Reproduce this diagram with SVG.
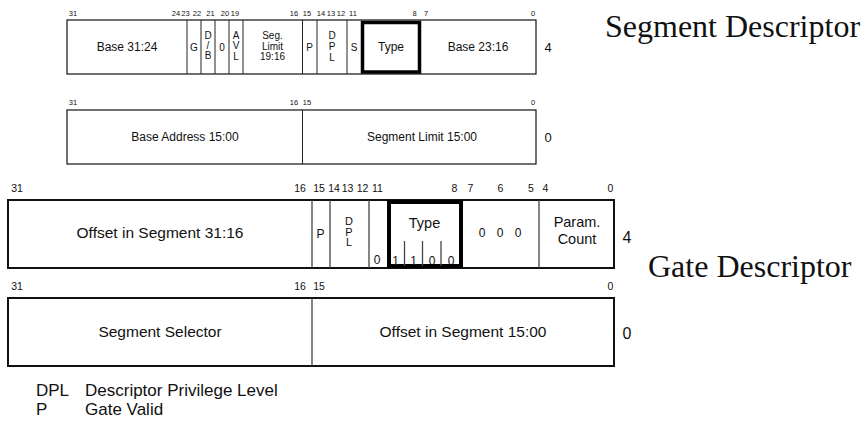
<svg xmlns="http://www.w3.org/2000/svg" width="865" height="424" viewBox="0 0 865 424">
<style>
text{font-family:"Liberation Sans",Arial,Helvetica,sans-serif;fill:#111}
.bs{font-size:7.5px;text-anchor:middle}
.bg{font-size:10.5px;text-anchor:middle}
.ls{font-size:12px;text-anchor:middle}
.st{font-size:10px;text-anchor:middle}
.gs{font-size:12px;text-anchor:middle}
.gv{font-size:11px;text-anchor:middle}
.lg{font-size:15.5px;text-anchor:middle}
.rs{font-size:13px;text-anchor:middle}
.rg{font-size:16px;text-anchor:middle}
.leg{font-size:17px}
.title{font-family:"Liberation Serif","Times New Roman",serif;font-size:32px}
.box{fill:#fff;stroke:#111;stroke-width:1.2}
.gbox{fill:#fff;stroke:#111;stroke-width:2}
.div{stroke:#222;stroke-width:1}
.gdiv{stroke:#444;stroke-width:1.3}
.thick{fill:none;stroke:#000;stroke-width:3.5}
.gthick{fill:none;stroke:#000;stroke-width:4}
</style>

<g id="segment-descriptor-high">
<rect class="box" x="67" y="20" width="469" height="54"/>
<line class="div" x1="187" y1="20" x2="187" y2="74"/>
<line class="div" x1="201" y1="20" x2="201" y2="74"/>
<line class="div" x1="215" y1="20" x2="215" y2="74"/>
<line class="div" x1="229" y1="20" x2="229" y2="74"/>
<line class="div" x1="243" y1="20" x2="243" y2="74"/>
<line class="div" x1="302.5" y1="20" x2="302.5" y2="74"/>
<line class="div" x1="317" y1="20" x2="317" y2="74"/>
<line class="div" x1="347" y1="20" x2="347" y2="74"/>
<rect class="thick" x="362.5" y="22.5" width="57" height="49.5"/>
<text class="bs" x="73" y="16">31</text>
<text class="bs" x="176" y="16">24</text>
<text class="bs" x="185.5" y="16">23</text>
<text class="bs" x="197" y="16">22</text>
<text class="bs" x="210.5" y="16">21</text>
<text class="bs" x="225" y="16">20</text>
<text class="bs" x="235" y="16">19</text>
<text class="bs" x="294" y="16">16</text>
<text class="bs" x="307" y="16">15</text>
<text class="bs" x="321" y="16">14</text>
<text class="bs" x="331" y="16">13</text>
<text class="bs" x="341" y="16">12</text>
<text class="bs" x="353" y="16">11</text>
<text class="bs" x="414.5" y="16">8</text>
<text class="bs" x="426" y="16">7</text>
<text class="bs" x="533" y="16">0</text>
<text class="ls" x="127" y="51">Base 31:24</text>
<text class="st" x="194" y="51">G</text>
<text class="st" x="208" y="38.5">D</text>
<text class="st" x="208" y="48.5">/</text>
<text class="st" x="208" y="59">B</text>
<text class="st" x="222" y="51">0</text>
<text class="st" x="236" y="38.5">A</text>
<text class="st" x="236" y="49">V</text>
<text class="st" x="236" y="59.5">L</text>
<text class="st" x="272.5" y="39">Seg.</text>
<text class="st" x="272.5" y="49.5">Limit</text>
<text class="st" x="272.5" y="60">19:16</text>
<text class="st" x="309.5" y="51">P</text>
<text class="st" x="332" y="38.5">D</text>
<text class="st" x="332" y="49.5">P</text>
<text class="st" x="332" y="60.5">L</text>
<text class="st" x="354" y="51">S</text>
<text class="ls" x="391" y="51">Type</text>
<text class="ls" x="478" y="51">Base 23:16</text>
<text class="rs" x="548" y="52">4</text>
</g>

<g id="segment-descriptor-low">
<rect class="box" x="67" y="110" width="469" height="54"/>
<line class="div" x1="302.5" y1="110" x2="302.5" y2="164"/>
<text class="bs" x="73" y="105">31</text>
<text class="bs" x="294" y="105">16</text>
<text class="bs" x="307" y="105">15</text>
<text class="bs" x="533" y="105">0</text>
<text class="ls" x="185" y="141">Base Address 15:00</text>
<text class="ls" x="422" y="141">Segment Limit 15:00</text>
<text class="rs" x="548" y="142">0</text>
</g>

<g id="segment-descriptor-title">
<text class="title" x="605" y="37">Segment Descriptor</text>
</g>

<g id="gate-descriptor-high">
<rect class="gbox" x="8" y="200" width="606" height="68"/>
<line class="gdiv" x1="312" y1="200" x2="312" y2="268"/>
<line class="gdiv" x1="330" y1="200" x2="330" y2="268"/>
<line class="gdiv" x1="369" y1="200" x2="369" y2="268"/>
<line class="gdiv" x1="539" y1="200" x2="539" y2="268"/>
<rect class="gthick" x="389" y="202" width="72" height="64"/>
<line class="gdiv" x1="404.5" y1="241" x2="404.5" y2="266"/>
<line class="gdiv" x1="422.5" y1="241" x2="422.5" y2="266"/>
<line class="gdiv" x1="441" y1="241" x2="441" y2="266"/>
<text class="bg" x="17" y="192">31</text>
<text class="bg" x="300" y="192">16</text>
<text class="bg" x="319" y="192">15</text>
<text class="bg" x="334" y="192">14</text>
<text class="bg" x="347.5" y="192">13</text>
<text class="bg" x="362.5" y="192">12</text>
<text class="bg" x="377.5" y="192">11</text>
<text class="bg" x="454.5" y="192">8</text>
<text class="bg" x="470.5" y="192">7</text>
<text class="bg" x="500.5" y="192">6</text>
<text class="bg" x="531" y="192">5</text>
<text class="bg" x="545.5" y="192">4</text>
<text class="bg" x="610.5" y="192">0</text>
<text class="lg" x="160" y="238">Offset in Segment 31:16</text>
<text class="gs" x="320.5" y="238">P</text>
<text class="gv" x="349" y="225">D</text>
<text class="gv" x="349" y="235.5">P</text>
<text class="gv" x="349" y="246">L</text>
<text class="gs" x="377" y="264">0</text>
<text class="lg" x="424.5" y="228" style="font-size:14.5px">Type</text>
<text class="gs" x="395.5" y="265">1</text>
<text class="gs" x="413.5" y="265">1</text>
<text class="gs" x="432" y="265">0</text>
<text class="gs" x="451" y="265">0</text>
<text class="gs" x="482" y="237">0</text>
<text class="gs" x="500" y="237">0</text>
<text class="gs" x="518" y="237">0</text>
<text class="lg" x="577" y="227" style="font-size:14.5px">Param.</text>
<text class="lg" x="577" y="244" style="font-size:14.5px">Count</text>
<text class="rg" x="627" y="243">4</text>
</g>

<g id="gate-descriptor-low">
<rect class="gbox" x="8" y="298" width="606" height="68"/>
<line class="gdiv" x1="312" y1="298" x2="312" y2="366"/>
<text class="bg" x="17" y="290">31</text>
<text class="bg" x="300" y="290">16</text>
<text class="bg" x="319" y="290">15</text>
<text class="bg" x="610.5" y="290">0</text>
<text class="lg" x="160" y="337">Segment Selector</text>
<text class="lg" x="463" y="337">Offset in Segment 15:00</text>
<text class="rg" x="627" y="339">0</text>
</g>

<g id="gate-descriptor-title">
<text class="title" x="648" y="277">Gate Descriptor</text>
</g>

<g id="legend">
<text class="leg" x="36" y="396">DPL</text>
<text class="leg" x="85" y="396">Descriptor Privilege Level</text>
<text class="leg" x="36" y="415">P</text>
<text class="leg" x="85" y="415">Gate Valid</text>
</g>

<g id="connectors"></g>
</svg>
